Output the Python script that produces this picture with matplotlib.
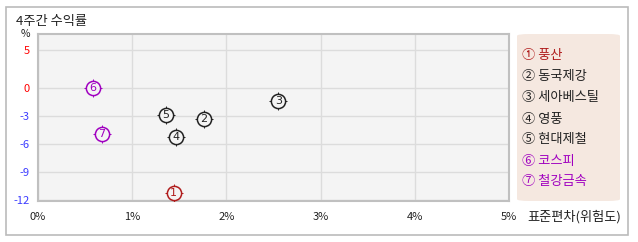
import matplotlib
matplotlib.use("Agg")
import matplotlib.pyplot as plt
import numpy as np
from matplotlib.patches import FancyBboxPatch, Rectangle

plt.rcParams['font.family'] = ['Noto Sans CJK KR', 'DejaVu Sans']

# data
names = ["풍산", "동국제강", "세아베스틸", "영풍", "현대제철", "코스피", "철강금속"]
labels = ["①", "②", "③", "④", "⑤", "⑥", "⑦"]
risk = [1.44, 1.76, 2.55, 1.47, 1.36, 0.58, 0.68]      # 표준편차 (%)
ret = [-11.3, -3.3, -1.4, -5.3, -2.9, 0.0, -4.9]        # 4주간 수익률 (%)
colors = ["#b01c1c", "#222222", "#222222", "#222222", "#222222", "#a000c0", "#a000c0"]
xticks = [0, 1, 2, 3, 4, 5]
yticks = [-12, -9, -6, -3, 0, 5]

W, H = 638, 242
fig = plt.figure(figsize=(W / 100, H / 100), dpi=100)

# outer frame
fig.patches.append(Rectangle((6 / W, 1 - 235 / H), 622 / W, 228 / H, transform=fig.transFigure,
                             fill=False, edgecolor="#bbbbbb", linewidth=1.2))

ax = fig.add_axes([38 / W, 1 - 201 / H, (509 - 38) / W, (201 - 34) / H])
ax.set_facecolor("#f4f4f4")

# positive side of the y axis is compressed in the original chart
k = 0.817
def fwd(y):
    y = np.asarray(y, dtype=float)
    return np.where(y >= 0, y * k, y)
def inv(u):
    u = np.asarray(u, dtype=float)
    return np.where(u >= 0, u / k, u)
ax.set_yscale("function", functions=(fwd, inv))

ax.set_xlim(0, 5)
ax.set_ylim(-12.15, 7.1)
ax.set_xticks(xticks)
ax.set_xticklabels([f"{t}%" for t in xticks])
ax.set_yticks(yticks)
ax.set_yticklabels([str(t) for t in yticks])
for lab, t in zip(ax.get_yticklabels(), yticks):
    lab.set_color("#ff0000" if t >= 0 else "#3b3bff")
ax.tick_params(length=0, labelsize=8, pad=6)
ax.tick_params(axis="x", pad=8, colors="#222222")
ax.grid(True, color="#dcdcdc", linewidth=1)
ax.set_axisbelow(True)
for s in ax.spines.values():
    s.set_color("#c0c0c0")
    s.set_linewidth(1.5)

for i, (x, y, c) in enumerate(zip(risk, ret, colors)):
    ax.scatter([x], [y], marker="+", s=150, color=c, linewidths=0.7, zorder=3)
    ax.scatter([x], [y], marker="o", s=105, facecolor="#f4f4f4", edgecolor=c, linewidths=1.1, zorder=4)
    ax.text(x, y, str(i + 1), color=c, fontsize=8, ha="center", va="center",
            zorder=5, family="DejaVu Sans")

fig.text(16 / W, 1 - 21 / H, "4주간 수익률", fontsize=9.5, color="#222222", va="center")
fig.text(25 / W, 1 - 34 / H, "%", fontsize=7.5, color="#222222", va="center", ha="center")
fig.text(527 / W, 1 - 217 / H, "표준편차(위험도)", fontsize=9.5, color="#222222", va="center")

# legend box
fig.patches.append(FancyBboxPatch((517 / W, 1 - 201 / H), 103 / W, 167 / H,
                                  boxstyle="round,pad=0,rounding_size=0.02",
                                  transform=fig.transFigure, facecolor="#f5e8e0",
                                  edgecolor="none", mutation_aspect=H / W))
for lab, nm, c, i in zip(labels, names, colors, range(7)):
    fig.text(522 / W, 1 - (56 + i * 21) / H, f"{lab} {nm}", fontsize=9.5, color=c, va="center")

fig.savefig("out.png", dpi=100)
